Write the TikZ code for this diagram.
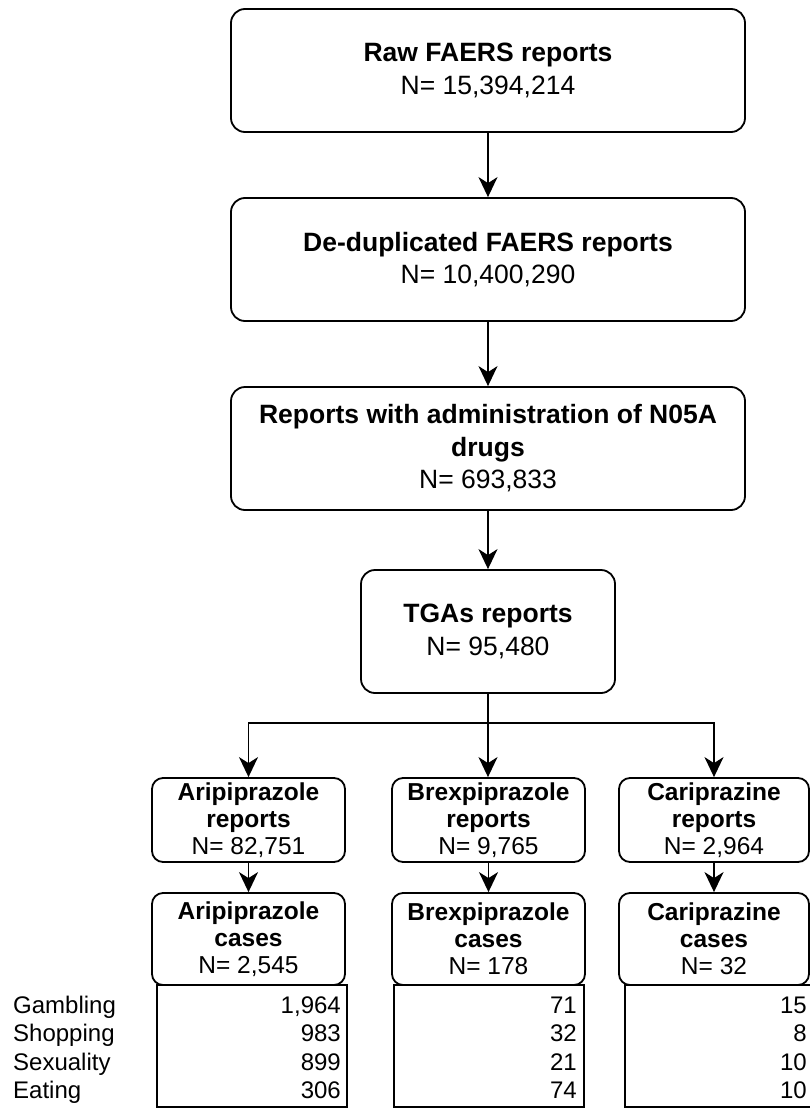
\documentclass[tikz,border=0pt]{standalone}
\usepackage{fontspec}
\setmainfont{Liberation Sans}
\usetikzlibrary{arrows.meta}

\begin{document}
\begin{tikzpicture}[x=1pt,y=-1pt]
\tikzset{boite/.style={draw, rounded corners=14pt, line width=1.8pt, inner sep=0pt, align=center, minimum width=514pt, minimum height=123pt, font=\fontsize{26.5}{32.5}\selectfont}}
\tikzset{petiteboite/.style={draw, rounded corners=11pt, line width=1.8pt, inner sep=0pt, align=center, minimum width=193pt, font=\fontsize{24.5}{27}\selectfont}}
\tikzset{tableau/.style={draw, line width=1.8pt, minimum width=190pt, minimum height=122pt, inner sep=0pt}}
\tikzset{chiffre/.style={anchor=base east, inner sep=0pt, font=\fontsize{24}{27}\selectfont}}
\tikzset{etiquette/.style={anchor=base west, inner sep=0pt, font=\fontsize{24}{27}\selectfont}}
\tikzset{fleche/.style={line width=1.8pt, -{Stealth[length=20pt,width=19pt,inset=6pt]}}}
\useasboundingbox (0,0) rectangle (810,1108);
% main chain
\node[boite] (raw) at (488,70.5) {\textbf{Raw FAERS reports}\\N= 15,394,214};
\node[boite] (dedup) at (488,259.5) {\textbf{De-duplicated FAERS reports}\\N= 10,400,290};
\node[boite] (nosa) at (488,448.5) {\textbf{Reports with administration of N05A}\\\textbf{drugs}\\N= 693,833};
\node[boite, minimum width=254pt] (tga) at (488,631.5) {\textbf{TGAs reports}\\N= 95,480};
\coordinate (branch) at (488,723);
% reports
\node[petiteboite, minimum height=84pt] (ari) at (248.5,820) {\textbf{Aripiprazole}\\\textbf{reports}\\N= 82,751};
\node[petiteboite, minimum height=84pt] (brex) at (488.5,820) {\textbf{Brexpiprazole}\\\textbf{reports}\\N= 9,765};
\node[petiteboite, minimum height=84pt, minimum width=190pt] (cari) at (714,820) {\textbf{Cariprazine}\\\textbf{reports}\\N= 2,964};
% cases
\node[petiteboite, minimum height=92pt] (aricas) at (248.5,939) {\textbf{Aripiprazole}\\\textbf{cases}\\N= 2,545};
\node[petiteboite, minimum height=92pt] (brexcas) at (488.5,939) {\textbf{Brexpiprazole}\\\textbf{cases}\\N= 178};
\node[petiteboite, minimum height=92pt, minimum width=190pt] (caricas) at (714,939) {\textbf{Cariprazine}\\\textbf{cases}\\N= 32};
% tables
\node[tableau] (aritab) at (252,1046) {};
\node[tableau] (brextab) at (489,1046) {};
\node[tableau] (caritab) at (720,1046) {};
\node[etiquette] (gam) at (13,1013) {Gambling};
\node[etiquette] (sho) at (13,1041.5) {Shopping};
\node[etiquette] (sex) at (13,1070) {Sexuality};
\node[etiquette] (eat) at (13,1098.5) {Eating};
\node[chiffre] (arigam) at (341,1013) {1,964};
\node[chiffre] (arisho) at (341,1041.5) {983};
\node[chiffre] (arisex) at (341,1070) {899};
\node[chiffre] (arieat) at (341,1098.5) {306};
\node[chiffre] (brexgam) at (577,1013) {71};
\node[chiffre] (brexsho) at (577,1041.5) {32};
\node[chiffre] (brexsex) at (577,1070) {21};
\node[chiffre] (brexeat) at (577,1098.5) {74};
\node[chiffre] (carigam) at (807,1013) {15};
\node[chiffre] (carisho) at (807,1041.5) {8};
\node[chiffre] (carisex) at (807,1070) {10};
\node[chiffre] (carieat) at (807,1098.5) {10};
% connectors
\draw[fleche] (raw) -- (dedup);
\draw[fleche] (dedup) -- (nosa);
\draw[fleche] (nosa) -- (tga);
\draw[line width=1.8pt] (tga) -- (branch);
\draw[fleche] (branch) -| (ari);
\draw[fleche] (branch) -- (brex.north -| branch);
\draw[fleche] (branch) -| (cari);
\draw[fleche] (ari) -- (aricas);
\draw[fleche] (brex) -- (brexcas);
\draw[fleche] (cari) -- (caricas);
\end{tikzpicture}
\end{document}
